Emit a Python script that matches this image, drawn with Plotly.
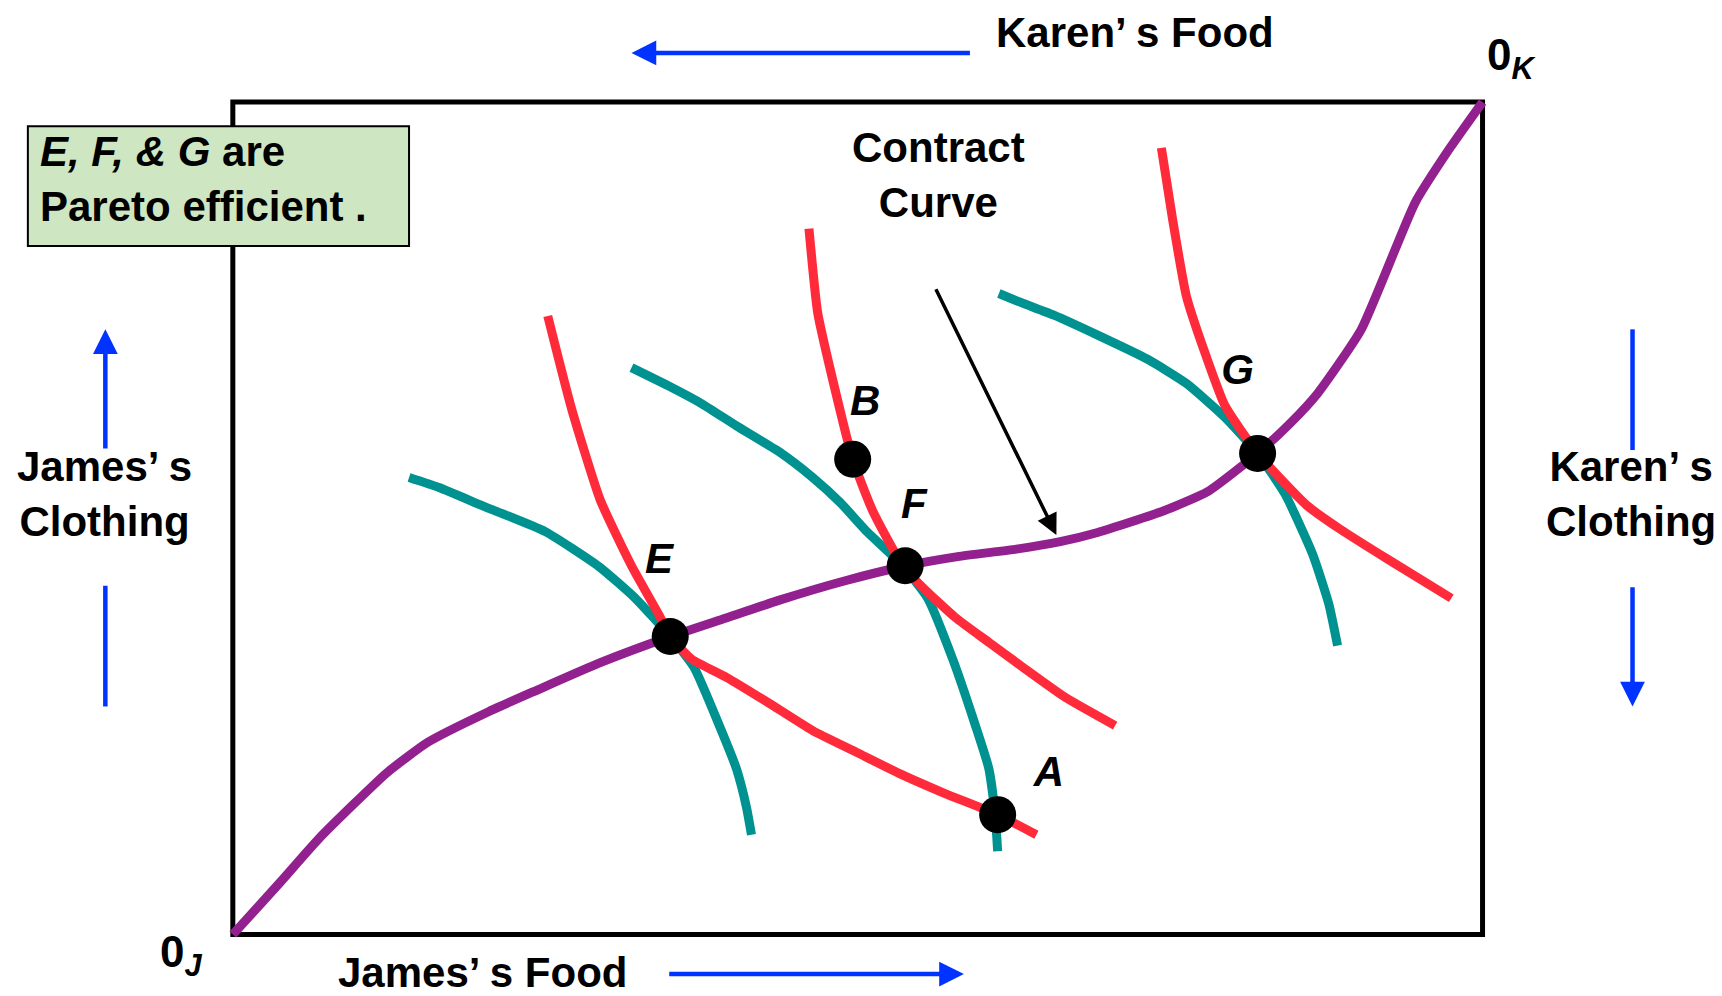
import plotly.graph_objects as go

# box units: x = food (0..100), y = clothing (0..100), 0_J at bottom-left
contract_x = [0, 3.8, 7.0, 12.3, 15.6, 20.5, 24.4, 29.3, 35.0, 39.4, 43.8, 49.0, 53.9, 58.0, 62.7, 66.2, 69.2, 74.5, 78.0, 82.0, 84.6, 86.8, 90.3, 94.6, 97.4, 100]
contract_y = [0, 6.3, 11.7, 19.4, 23.1, 26.8, 29.4, 32.6, 35.8, 38.0, 40.2, 42.5, 44.3, 45.4, 46.3, 47.2, 48.3, 50.9, 53.2, 57.8, 61.4, 65.0, 72.7, 87.9, 94.5, 100]

karen1_x = [25.2, 27.1, 29.4, 31.9, 34.1, 35.0, 36.7, 39.5, 42.9, 46.4, 49.9, 53.4, 56.9, 61.2, 64.3]
karen1_y = [74.3, 63.2, 52.2, 44.3, 38.4, 35.8, 33.1, 30.9, 27.8, 24.5, 21.9, 19.3, 17.0, 14.4, 12.0]
karen2_x = [46.1, 46.8, 48.2, 49.6, 51.2, 53.6, 55.2, 57.8, 60.5, 63.5, 66.6, 70.6]
karen2_y = [84.8, 74.7, 65.4, 57.1, 50.9, 44.3, 41.7, 38.1, 35.1, 31.8, 28.5, 25.1]
karen3_x = [74.3, 75.2, 76.3, 77.9, 79.4, 82.0, 85.9, 88.6, 92.5, 97.5]
karen3_y = [94.5, 85.9, 76.7, 69.4, 63.5, 57.8, 51.6, 48.7, 45.0, 40.4]

james1_x = [14.1, 16.5, 20.0, 25.0, 29.3, 32.2, 35.0, 36.9, 38.9, 40.3, 41.1, 41.5]
james1_y = [54.9, 53.7, 51.5, 48.4, 44.2, 40.4, 35.8, 32.1, 25.2, 19.9, 15.3, 12.0]
james2_x = [31.9, 35.0, 37.6, 40.3, 43.8, 46.4, 48.6, 50.8, 53.6, 55.6, 57.6, 59.4, 60.5, 61.0, 61.2]
james2_y = [68.1, 65.8, 63.7, 61.1, 57.9, 54.9, 51.9, 48.3, 44.3, 40.4, 33.1, 25.2, 19.9, 14.4, 10.0]
james3_x = [61.3, 63.1, 65.7, 69.2, 73.2, 76.3, 79.4, 82.0, 84.2, 86.4, 87.7, 88.4]
james3_y = [77.0, 75.9, 74.4, 72.0, 69.1, 66.2, 62.1, 57.8, 52.9, 45.7, 39.7, 34.7]

point_names = ["A", "B", "E", "F", "G"]
point_x = [61.2, 49.6, 35.0, 53.8, 82.0]
point_y = [14.4, 57.1, 35.8, 44.3, 57.8]
label_x = [65.3, 50.6, 34.1, 54.5, 80.4]
label_y = [19.1, 63.7, 44.7, 51.3, 67.4]

RED = "#ff2a3a"
TEAL = "#009191"
PURPLE = "#92218f"
BLUE = "#0033ff"
FONT = "Liberation Sans, Arial, sans-serif"
FS = 42

fig = go.Figure()

for xs, ys in [(james1_x, james1_y), (james2_x, james2_y), (james3_x, james3_y)]:
    fig.add_trace(go.Scatter(x=xs, y=ys, mode="lines", line=dict(color=TEAL, width=9, shape="spline", smoothing=0.5), hoverinfo="skip"))
fig.add_trace(go.Scatter(x=contract_x, y=contract_y, mode="lines", line=dict(color=PURPLE, width=9, shape="spline", smoothing=0.5), hoverinfo="skip"))
for xs, ys in [(karen1_x, karen1_y), (karen2_x, karen2_y), (karen3_x, karen3_y)]:
    fig.add_trace(go.Scatter(x=xs, y=ys, mode="lines", line=dict(color=RED, width=9, shape="spline", smoothing=0.5), hoverinfo="skip"))

fig.add_trace(go.Scatter(x=point_x, y=point_y, mode="markers", marker=dict(color="black", size=37), hoverinfo="skip"))
fig.add_trace(go.Scatter(x=label_x, y=label_y, mode="text", text=["<b><i>%s</i></b>" % n for n in point_names],
                         textfont=dict(family=FONT, size=FS, color="black"), hoverinfo="skip"))

# plain blue segments (no heads)
fig.add_trace(go.Scatter(x=[-10.2, -10.2], y=[41.9, 27.4], mode="lines", line=dict(color=BLUE, width=4.5), hoverinfo="skip"))
fig.add_trace(go.Scatter(x=[112.0, 112.0], y=[72.7, 58.2], mode="lines", line=dict(color=BLUE, width=4.5), hoverinfo="skip"))

# Edgeworth box
fig.add_shape(type="rect", x0=0, y0=0, x1=100, y1=100, line=dict(color="black", width=5), layer="below")
# green note box
fig.add_shape(type="rect", x0=-16.4, y0=82.7, x1=14.1, y1=97.1, fillcolor="#cee6c1", line=dict(color="black", width=2), layer="above")

ann = []
def arrow(x, y, ax, ay, color, width, size):
    ann.append(dict(x=x, y=y, ax=ax, ay=ay, xref="x", yref="y", axref="x", ayref="y", text="",
                    showarrow=True, arrowhead=2, arrowsize=size, arrowwidth=width, arrowcolor=color))

arrow(31.9, 105.9, 59.1, 105.9, BLUE, 4.5, 1.1)
arrow(58.5, -4.75, 34.8, -4.75, BLUE, 4.5, 1.1)
arrow(-10.2, 72.7, -10.2, 58.2, BLUE, 4.5, 1.1)
arrow(112.0, 27.4, 112.0, 41.9, BLUE, 4.5, 1.1)
arrow(65.9, 48.0, 56.2, 77.7, "black", 3.5, 1.2)

def label(text, x, y, xanchor="center", align="center", size=FS):
    ann.append(dict(x=x, y=y, xref="x", yref="y", text=text, showarrow=False, xanchor=xanchor, yanchor="middle",
                    align=align, font=dict(family=FONT, size=size, color="black")))

label("<b>Karen’ s Food</b>", 60.9, 108.3, xanchor="left")
label("<b>James’ s Food</b>", 20.0, -4.5)
label("<b>James’ s<br>Clothing</b>", -10.3, 52.9)
label("<b>Karen’ s<br>Clothing</b>", 111.9, 52.9)
label("<b>Contract<br>Curve</b>", 56.5, 91.2)
label("<b><i>E, F, &amp; G</i> are<br>Pareto efficient .</b>", -15.6, 90.7, xanchor="left", align="left")
label("<b>0<sub><i>K</i></sub></b>", 100.2, 105.3, xanchor="left", size=44)
label("<b>0<sub><i>J</i></sub></b>", -6.0, -2.4, xanchor="left", size=44)
fig.update_layout(annotations=ann)

# page body has an 8px margin, so the figure is 8px smaller than the window
fig.update_layout(
    width=1714, height=988,
    margin=dict(l=0, r=0, t=0, b=0),
    paper_bgcolor="white", plot_bgcolor="white",
    showlegend=False,
    xaxis=dict(range=[-17.99, 119.16], visible=False, fixedrange=True),
    yaxis=dict(range=[-7.38, 111.30], visible=False, fixedrange=True),
)

fig.write_html("out.html")
